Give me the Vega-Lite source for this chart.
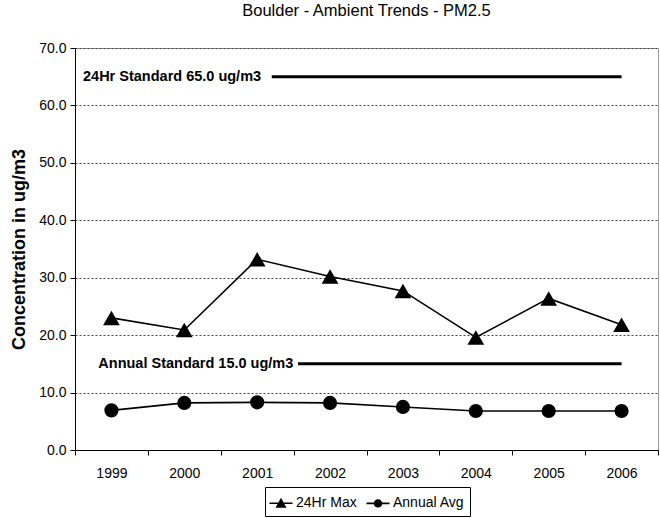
{
  "$schema": "https://vega.github.io/schema/vega-lite/v6.json",
  "autosize": "none",
  "width": 583,
  "height": 402,
  "padding": {"left": 75, "top": 48, "right": 2, "bottom": 68},
  "background": "white",
  "config": {
    "font": "Liberation Sans",
    "view": {"stroke": "#999999", "strokeWidth": 1}
  },
  "title": {
    "text": "Boulder - Ambient Trends - PM2.5",
    "fontSize": 16.5,
    "fontWeight": "normal",
    "font": "Liberation Sans",
    "color": "black",
    "offset": 22,
    "anchor": "middle"
  },
  "datasets": {
    "series": [
      {"year": "1999", "series": "24Hr Max", "value": 23.0},
      {"year": "2000", "series": "24Hr Max", "value": 20.9},
      {"year": "2001", "series": "24Hr Max", "value": 33.2},
      {"year": "2002", "series": "24Hr Max", "value": 30.2},
      {"year": "2003", "series": "24Hr Max", "value": 27.7},
      {"year": "2004", "series": "24Hr Max", "value": 19.6},
      {"year": "2005", "series": "24Hr Max", "value": 26.4},
      {"year": "2006", "series": "24Hr Max", "value": 21.8},
      {"year": "1999", "series": "Annual Avg", "value": 6.9},
      {"year": "2000", "series": "Annual Avg", "value": 8.2},
      {"year": "2001", "series": "Annual Avg", "value": 8.3},
      {"year": "2002", "series": "Annual Avg", "value": 8.2},
      {"year": "2003", "series": "Annual Avg", "value": 7.5},
      {"year": "2004", "series": "Annual Avg", "value": 6.8},
      {"year": "2005", "series": "Annual Avg", "value": 6.8},
      {"year": "2006", "series": "Annual Avg", "value": 6.8}
    ],
    "standards": [
      {"label": "24Hr Standard 65.0 ug/m3", "level": 65, "labelPos": 0.11, "start": 2.7, "end": 7.5},
      {"label": "Annual Standard 15.0 ug/m3", "level": 15, "labelPos": 0.32, "start": 3.06, "end": 7.5}
    ]
  },
  "layer": [
    {
      "data": {"name": "series"},
      "encoding": {
        "x": {
          "field": "year",
          "type": "ordinal",
          "scale": {"type": "band", "paddingInner": 0, "paddingOuter": 0},
          "axis": {
            "title": null,
            "labelAngle": 0,
            "labelFontSize": 14,
            "labelFont": "Liberation Sans",
            "labelColor": "black",
            "labelPadding": 11,
            "tickBand": "extent",
            "tickSize": 5,
            "tickColor": "black",
            "domainColor": "black",
            "grid": false
          }
        },
        "y": {
          "field": "value",
          "type": "quantitative",
          "scale": {"domain": [0, 70], "nice": false},
          "axis": {
            "title": "Concentration in ug/m3",
            "titleFontSize": 18,
            "titleFontWeight": "bold",
            "titleFont": "Liberation Sans",
            "titleColor": "black",
            "titlePadding": 10,
            "values": [0, 10, 20, 30, 40, 50, 60, 70],
            "format": ".1f",
            "labelFontSize": 14,
            "labelFont": "Liberation Sans",
            "labelColor": "black",
            "labelPadding": 4,
            "tickSize": 5,
            "tickColor": "black",
            "domainColor": "black",
            "grid": true,
            "gridColor": "#444444",
            "gridDash": [2, 2],
            "gridWidth": 1
          }
        }
      },
      "layer": [
        {
          "mark": {"type": "line", "color": "black", "strokeWidth": 1.6},
          "encoding": {"detail": {"field": "series"}}
        },
        {
          "transform": [{"filter": "datum.series === '24Hr Max'"}],
          "mark": {"type": "point", "shape": "triangle-up", "filled": true, "color": "black", "opacity": 1, "size": 280}
        },
        {
          "transform": [{"filter": "datum.series === 'Annual Avg'"}],
          "mark": {"type": "point", "shape": "circle", "filled": true, "color": "black", "opacity": 1, "size": 200}
        },
        {
          "mark": {"type": "point", "filled": true, "color": "black", "opacity": 0},
          "encoding": {
            "shape": {
              "field": "series",
              "type": "nominal",
              "scale": {"domain": ["24Hr Max", "Annual Avg"], "range": ["M-1.15,-0.08H1.15V0.08H-1.15ZM0,-0.55L0.55,0.45L-0.55,0.45Z", "M-1.15,-0.08H1.15V0.08H-1.15ZM0.42,0A0.42,0.42 0 1,1 -0.42,0A0.42,0.42 0 1,1 0.42,0Z"]},
              "legend": {
                "title": null,
                "orient": "none",
                "direction": "horizontal",
                "legendX": 190,
                "legendY": 439,
                "strokeColor": "black",
                "padding": 5,
                "labelFontSize": 14,
                "labelFont": "Liberation Sans",
                "labelColor": "black",
                "symbolSize": 400,
                "symbolOpacity": 1,
                "symbolFillColor": "black",
                "symbolStrokeColor": "black",
                "symbolStrokeWidth": 1.5,
                "columnPadding": 6
              }
            }
          }
        }
      ]
    },
    {
      "data": {"name": "standards"},
      "encoding": {
        "y": {"field": "level", "type": "quantitative"}
      },
      "layer": [
        {
          "mark": {"type": "rule", "color": "black", "strokeWidth": 3},
          "encoding": {
            "x": {"field": "start", "type": "quantitative", "scale": {"domain": [0, 8]}, "axis": null},
            "x2": {"field": "end"}
          }
        },
        {
          "mark": {"type": "text", "align": "left", "baseline": "middle", "fontWeight": "bold", "fontSize": 14.5, "font": "Liberation Sans", "color": "black"},
          "encoding": {
            "x": {"field": "labelPos", "type": "quantitative", "scale": {"domain": [0, 8]}, "axis": null},
            "text": {"field": "label"}
          }
        }
      ]
    }
  ],
  "resolve": {"scale": {"x": "independent"}}
}
